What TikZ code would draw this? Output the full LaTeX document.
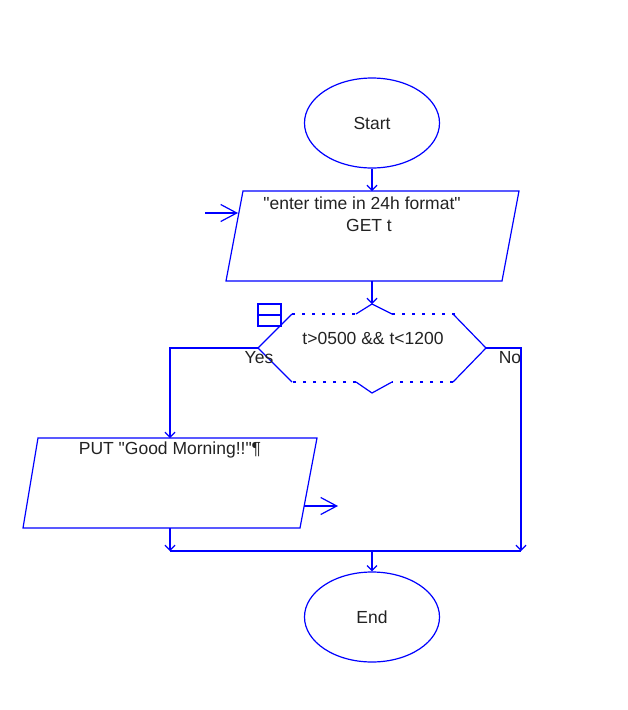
\documentclass[tikz,border=0pt]{standalone}
\usepackage{fontspec}
\setmainfont{Liberation Sans}
\usetikzlibrary{arrows.meta,shapes.geometric}
\definecolor{fc}{RGB}{0,0,255}
\definecolor{tc}{RGB}{34,34,34}
\tikzset{
  ln/.style={draw=fc,line width=1.2pt},
  arr/.style={ln,-{Straight Barb[length=5pt,width=10pt,line width=1.2pt]}},
  bigarr/.style={ln,-{Straight Barb[length=16pt,width=17pt,line width=1.2pt]}},
  lbl/.style={text=tc,font=\fontsize{17.5}{22}\selectfont,inner sep=0pt},
  term/.style={ellipse,ln,minimum width=135pt,minimum height=90pt,lbl},
  dots/.style={ln,dash pattern=on 3pt off 7pt}
}
\begin{document}
\begin{tikzpicture}[x=1pt,y=-1pt]
\useasboundingbox (0,0) rectangle (628,710);
% Start
\node[term] (start) at (372,123) {Start};
% input parallelogram
\coordinate (p1tl) at (243,191); \coordinate (p1tr) at (519,191);
\coordinate (p1br) at (502,281); \coordinate (p1bl) at (226,281);
\coordinate (p1t) at (372,191); \coordinate (p1b) at (372,281);
\draw[ln] (p1tl) -- (p1tr) -- (p1br) -- (p1bl) -- cycle;
\node[lbl,align=center] (intext) at (369,214) {\textquotedbl enter time in 24h format\textquotedbl\hspace*{14pt}\\GET t};
\coordinate (inarrs) at (205,213); \coordinate (inarre) at (238,213);
\draw[bigarr] (inarrs) -- (inarre);
% decision
\coordinate (dl) at (258,348); \coordinate (dr) at (486,348);
\coordinate (dt) at (372,304); \coordinate (db) at (372,393);
\draw[ln] (dl) -- (292,314);
\draw[dots] (292,314) -- (356,314);
\draw[ln] (356,314) -- (dt) -- (392,314);
\draw[dots] (392,314) -- (456,314);
\draw[ln] (453,314) -- (dr) -- (453,382);
\draw[dots] (453,382) -- (392,382);
\draw[ln] (392,382) -- (db) -- (356,382);
\draw[dots] (356,382) -- (292,382);
\draw[ln] (292,382) -- (dl);
\node[lbl] (cond) at (373,338) {t>0500 \&\& t<1200};
\node[draw=fc,line width=1.2pt,minimum width=23pt,minimum height=22pt,inner sep=0pt] (icon) at (269.5,315) {};
\draw[ln] (icon.west) -- (icon.east);
\node[lbl] (yes) at (259,358) {Yes};
\node[lbl] (no) at (510,358) {No};
% output parallelogram
\coordinate (p2tl) at (38,438); \coordinate (p2tr) at (317,438);
\coordinate (p2br) at (300,528); \coordinate (p2bl) at (23,528);
\coordinate (p2t) at (170,438); \coordinate (p2b) at (170,528);
\draw[ln] (p2tl) -- (p2tr) -- (p2br) -- (p2bl) -- cycle;
\node[lbl] (outtext) at (170,450) {PUT \textquotedbl Good Morning!!\textquotedbl¶};
\coordinate (outs) at (304,506); \coordinate (oute) at (338,506);
\draw[bigarr] (outs) -- (oute);
% merge
\coordinate (ml) at (170,551); \coordinate (mr) at (521,551); \coordinate (mm) at (372,551);
\node[term] (end) at (372,617) {End};
% connectors
\draw[arr] (start.south) -- (p1t);
\draw[arr] (p1b) -- (dt);
\draw[arr] (dl) -| (p2t);
\draw[arr] (dr) -| (mr);
\draw[arr] (p2b) -- (ml);
\draw[ln] (ml) -- (mr);
\draw[arr] (mm) -- (end.north);
\end{tikzpicture}
\end{document}
